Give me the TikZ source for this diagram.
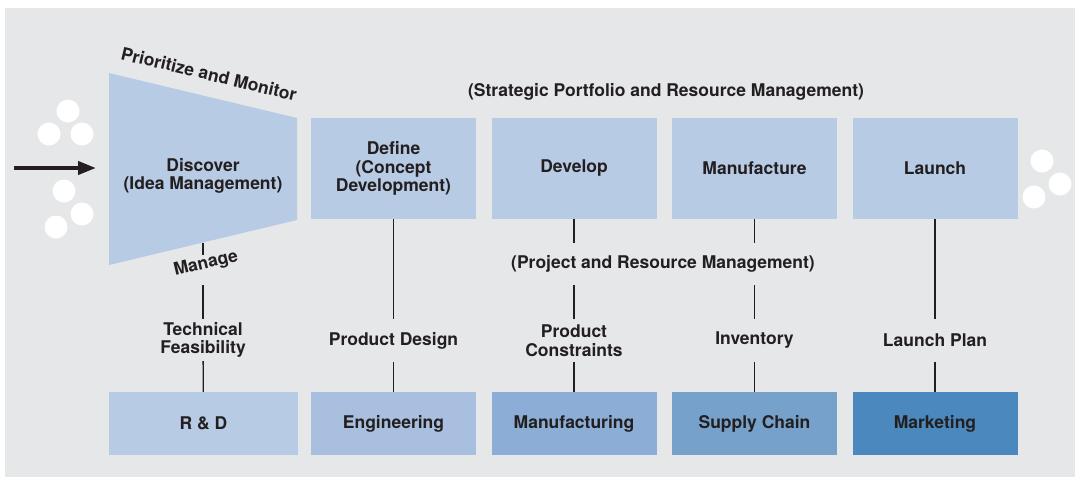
\documentclass[tikz,border=0pt]{standalone}
\usepackage{fontspec}
\setmainfont{TeX Gyre Heros}
\usetikzlibrary{arrows.meta}

\definecolor{panel}{HTML}{E6E7E9}
\definecolor{ink}{HTML}{231F20}
\definecolor{phasefill}{HTML}{B8CBE5}
\definecolor{rdfill}{HTML}{B8CBE5}
\definecolor{engfill}{HTML}{A9BFDF}
\definecolor{mfgfill}{HTML}{8CAED6}
\definecolor{scfill}{HTML}{76A1CB}
\definecolor{mktfill}{HTML}{4A88BE}

\begin{document}
\begin{tikzpicture}[x=1pt, y=-1pt, every node/.style={
    rectangle,
    %draw,
    align=center,
    text=ink,
    font=\fontsize{17.5}{18.5}\selectfont\bfseries,
  },
  phase/.style={fill=phasefill, minimum width=165pt, minimum height=101pt},
  unit/.style={minimum width=165pt, minimum height=63pt},
  tag/.style={minimum height=42pt, inner sep=0pt},
  link/.style={draw=ink, line width=1.3pt}]

  \useasboundingbox (0,0) rectangle (1075,477);
  \fill[panel] (5,8) rectangle (1075,477);

  % ideas going in and coming out
  \foreach \cx/\cy in {68/111, 49/134, 82/134, 64/191, 82/214, 56/227,
                       1042/161, 1060/184, 1034/197}
    \fill[white] (\cx,\cy) circle (11.5pt);

  % funnel
  \coordinate (ftl) at (109,73);
  \fill[phasefill] (ftl) -- (297,118) -- (297,220) -- (109,265) -- cycle;
  \node (discover) at (203,176) {Discover\\(Idea Management)};
  \coordinate (intake) at (14,168);
  \draw[ink, line width=4pt, shorten >=13pt, -{Triangle[length=18pt,width=13pt]}] (intake) -- (intake -| ftl);
  \node[rotate=-13.5] (monitor) at (209,74) {Prioritize and Monitor};
  \node[rotate=13.5] (manage) at (206,264) {Manage};
  \coordinate (fb) at (203,243);

  % phases
  \node[phase] (define) at (393.5,168.5) {Define\\(Concept\\Development)};
  \node[phase, right of=define, node distance=180.5pt] (develop) {Develop};
  \node[phase, right of=develop, node distance=180.5pt] (manufacture) {Manufacture};
  \node[phase, right of=manufacture, node distance=180.5pt] (launch) {Launch};

  \node (strategic) at (666,92) {(Strategic Portfolio and Resource Management)};
  \node[tag] (pm) at (663,264) {(Project and Resource Management)};

  % functions
  \node[unit, fill=engfill] (engineering) at (393.5,423.5) {Engineering};
  \node[unit, fill=rdfill, left of=engineering, node distance=190pt, minimum width=189pt] (rd) {R \& D};
  \node[unit, fill=mfgfill, right of=engineering, node distance=180.5pt] (manufacturing) {Manufacturing};
  \node[unit, fill=scfill, right of=manufacturing, node distance=180.5pt] (supply) {Supply Chain};
  \node[unit, fill=mktfill, right of=supply, node distance=180.5pt] (marketing) {Marketing};

  % what each one hands over
  \node[tag] (feasibility) at (203,340) {Technical\\Feasibility};
  \node[tag, below of=define, node distance=172pt] (design) {Product Design};
  \node[tag, below of=develop, node distance=172pt] (constraints) {Product\\Constraints};
  \node[tag, below of=manufacture, node distance=172pt] (inventory) {Inventory};
  \node[tag, below of=launch, node distance=172pt] (plan) {Launch Plan};

  \draw[link, shorten >=9pt] (fb) -- (fb |- manage);
  \draw[link, shorten >=21pt] (feasibility) -- (feasibility |- manage);
  \draw[link] (feasibility) -- (rd);

  \draw[link] (define) -- (design);
  \draw[link] (design) -- (engineering);

  \draw[link] (develop) -- (pm.north -| develop);
  \draw[link] (pm.south -| develop) -- (constraints);
  \draw[link] (constraints) -- (manufacturing);

  \draw[link] (manufacture) -- (pm.north -| manufacture);
  \draw[link] (pm.south -| manufacture) -- (inventory);
  \draw[link] (inventory) -- (supply);

  \draw[link] (launch) -- (plan);
  \draw[link] (plan) -- (marketing);

\end{tikzpicture}
\end{document}
